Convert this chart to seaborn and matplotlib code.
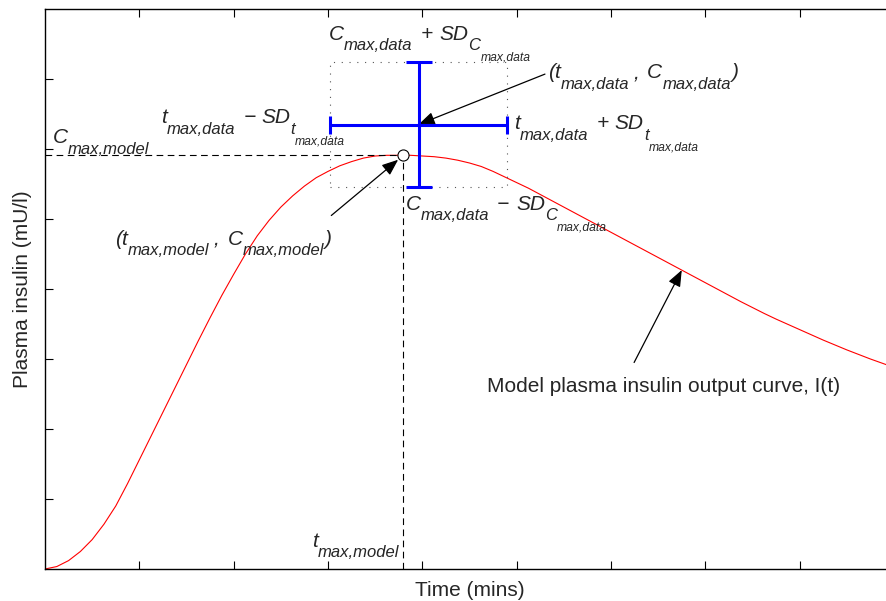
import numpy as np
import pandas as pd
import matplotlib
matplotlib.use("Agg")
import matplotlib.pyplot as plt
from matplotlib.transforms import IdentityTransform
import seaborn as sns

# model plasma insulin curve (mins, mU/l)
time_min = [0, 2.5, 5, 7.5, 10, 12.5, 15, 17.5, 20, 22.5, 25, 27.5, 30, 32.5, 35, 37.5,
            40, 42.5, 45, 47.5, 50, 52.5, 55, 57.5, 60, 62.5, 65, 67.5, 70, 72.5, 75,
            77.5, 80, 82.5, 85, 87.5, 90, 92.5, 95, 97.5, 100, 102.5, 105, 107.5, 110,
            112.5, 115, 117.5, 120, 122.5, 125, 127.5, 130, 132.5, 135, 137.5, 140,
            142.5, 145, 147.5, 150, 152.5, 155, 157.5, 160, 162.5, 165, 167.5, 170,
            172.5, 175, 177.5, 180]
insulin = [0.0, 0.35, 1.2, 2.5, 4.2, 6.4, 9.0, 12.2, 15.6, 19.0, 22.4, 25.8, 29.2, 32.6,
           35.9, 39.1, 42.1, 45.0, 47.6, 49.8, 51.7, 53.3, 54.7, 55.9, 56.8, 57.6, 58.2,
           58.7, 59.0, 59.1, 59.1, 59.1, 59.0, 58.9, 58.7, 58.4, 58.0, 57.5, 56.8, 56.0,
           55.2, 54.4, 53.5, 52.6, 51.7, 50.8, 49.9, 49.0, 48.1, 47.2, 46.3, 45.4, 44.5,
           43.6, 42.7, 41.8, 40.9, 40.0, 39.1, 38.2, 37.35, 36.5, 35.7, 34.95, 34.2,
           33.45, 32.7, 32.0, 31.3, 30.65, 30.0, 29.4, 28.8]

# model peak and data peak with its standard deviations
t_max_model, c_max_model = 76.0, 59.1
t_max_data, c_max_data = 79.2, 63.5
sd_t, sd_c = 18.7, 8.9

x_ticks = [20, 40, 60, 80, 100, 120, 140, 160]
y_ticks = [10, 20, 30, 40, 50, 60, 70]

TEXT_COLOR = "#262626"
# font size and baseline drop (px) for main text, subscript, sub-subscript
LEVELS = {0: (15, 0), 1: (12, 10.5), 2: (8.7, 21)}


def tex_label(ax, x, y, parts):
    """Lay out a MATLAB-like label piece by piece; numbers are extra gaps in px."""
    renderer = ax.figure.canvas.get_renderer()
    px, py = ax.transData.transform((x, y))
    for part in parts:
        if isinstance(part, (int, float)):
            px += part
            continue
        s, level = part
        size, drop = LEVELS[level]
        t = ax.text(px, py - drop, s, fontsize=size, style="italic", ha="left",
                    va="baseline", color=TEXT_COLOR, transform=IdentityTransform())
        px += t.get_window_extent(renderer).width


sns.set_style("ticks")
plt.rcParams["font.family"] = ["Liberation Sans", "DejaVu Sans"]

df = pd.DataFrame({"time": time_min, "insulin": insulin})

fig = plt.figure(figsize=(8.86, 6.01), dpi=100)
ax = fig.add_axes([45 / 886, 32 / 601, 849 / 886, 560 / 601])
ax.set_xlim(0, 180)
ax.set_ylim(0, 80)

sns.lineplot(data=df, x="time", y="insulin", color="red", lw=0.8, ax=ax)

# dashed guide lines to the model peak
dash = (0, (6, 4))
ax.plot([0, t_max_model], [c_max_model, c_max_model], ls=dash, color="black", lw=0.8)
ax.plot([t_max_model, t_max_model], [0, c_max_model], ls=dash, color="black", lw=0.8)
ax.plot(t_max_model, c_max_model, "o", mfc="white", mec="black", ms=8, mew=0.8, zorder=5)

# dotted box round the data error cross
box_x = [t_max_data - sd_t, t_max_data + sd_t, t_max_data + sd_t, t_max_data - sd_t, t_max_data - sd_t]
box_y = [c_max_data - sd_c, c_max_data - sd_c, c_max_data + sd_c, c_max_data + sd_c, c_max_data - sd_c]
ax.plot(box_x, box_y, ls=(0, (1, 6)), color="#555555", lw=0.8)

ax.errorbar(t_max_data, c_max_data, xerr=sd_t, fmt="none", ecolor="blue",
            elinewidth=2.2, capsize=6.2, capthick=2.2, zorder=4)
ax.errorbar(t_max_data, c_max_data, yerr=sd_c, fmt="none", ecolor="blue",
            elinewidth=2.2, capsize=9.4, capthick=2.2, zorder=4)

arrow = dict(arrowstyle="-|>,head_length=0.55,head_width=0.22", color="black",
             lw=0.9, mutation_scale=18, shrinkA=0, shrinkB=0)
ax.annotate("", xy=(t_max_data, c_max_data), xytext=(106.0, 70.7), arrowprops=arrow)
ax.annotate("", xy=(t_max_model, c_max_model), xytext=(60.7, 50.5),
            arrowprops={**arrow, "shrinkB": 5})
ax.annotate("", xy=(time_min[54], insulin[54]), xytext=(124.9, 29.5), arrowprops=arrow)

tex_label(ax, 1.6, 60.8, [("C", 0), ("max,model", 1)])
tex_label(ax, 24.6, 63.7, [("t", 0), ("max,data", 1), 8, ("\u2212", 0), 6, ("SD", 0),
                           ("t", 1), ("max,data", 2)])
tex_label(ax, 60.1, 75.6, [("C", 0), ("max,data", 1), 9, ("+", 0), 6, ("SD", 0),
                           ("C", 1), ("max,data", 2)])
tex_label(ax, 106.7, 70.1, [("(t", 0), ("max,data", 1), 4, (",", 0), 8, ("C", 0),
                            ("max,data", 1), (")", 0)])
tex_label(ax, 99.5, 62.8, [("t", 0), ("max,data", 1), 8, ("+", 0), 6, ("SD", 0),
                           ("t", 1), ("max,data", 2)])
tex_label(ax, 76.4, 51.3, [("C", 0), ("max,data", 1), 8, ("\u2212", 0), 7, ("SD", 0),
                           ("C", 1), ("max,data", 2)])
tex_label(ax, 14.8, 46.3, [("(t", 0), ("max,model", 1), 5, (",", 0), 8, ("C", 0),
                           ("max,model", 1), (")", 0)])
tex_label(ax, 56.6, 3.2, [("t", 0), ("max,model", 1)])
ax.text(93.8, 25.3, "Model plasma insulin output curve, I(t)", fontsize=15,
        ha="left", va="baseline", color=TEXT_COLOR)

ax.set_xticks(x_ticks)
ax.set_yticks(y_ticks)
ax.set_xticklabels([])
ax.set_yticklabels([])
ax.tick_params(direction="in", length=5.5, width=0.8, top=True, right=True, color="black")
for side in ["left", "right", "top", "bottom"]:
    ax.spines[side].set_visible(True)
    ax.spines[side].set_linewidth(1.0)
    ax.spines[side].set_color("black")

ax.set_xlabel("Time (mins)", fontsize=15, labelpad=5, color=TEXT_COLOR)
ax.set_ylabel("Plasma insulin (mU/l)", fontsize=15, labelpad=6, color=TEXT_COLOR)

fig.savefig("out.png", dpi=100)
